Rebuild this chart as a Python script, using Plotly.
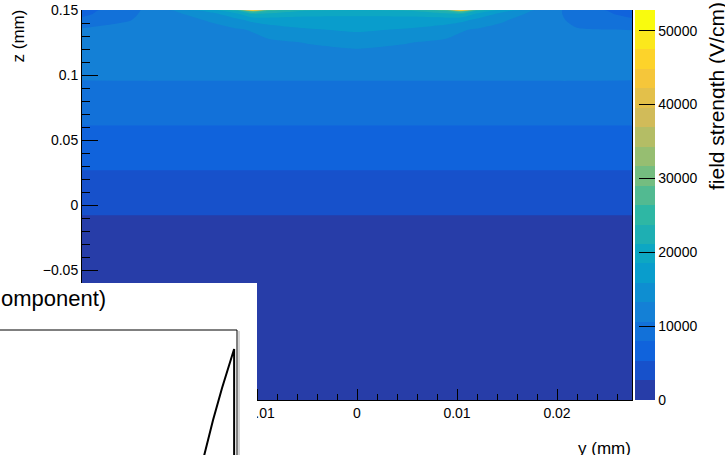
import plotly.graph_objects as go

# ---------------- data ----------------
X_MM = [-0.0275, -0.022, -0.018, -0.0145, -0.012, -0.0104, -0.0088, -0.005, 0.0,
        0.005, 0.0088, 0.0104, 0.012, 0.0145, 0.018, 0.022, 0.0275]
Z_MM = [-0.15, -0.043, 0.0, 0.044, 0.08, 0.11, 0.125, 0.135, 0.142, 0.147, 0.1495, 0.15]

ROW_M015 = [0] * 17
ROW_M0043 = [0] * 17
ROW_0000 = [3231] * 17
ROW_0044 = [6608] * 17
ROW_0080 = [9370] * 17
ROW_0110 = [11600, 11673, 11673, 11673, 11673, 11673, 11673, 11673, 11673, 11673, 11673, 11673, 11673, 11673, 11673, 11673, 11600]
ROW_0125 = [11900, 11800, 11900, 12100, 12300, 12500, 12700, 13300, 13900, 13300, 12700, 12500, 12300, 12100, 11850, 11500, 11700]
ROW_0135 = [10900, 11200, 12100, 12600, 13000, 13400, 14600, 15600, 16300, 15600, 14600, 13400, 13000, 12600, 11900, 10700, 10500]
ROW_0142 = [8600, 10800, 12400, 13400, 15000, 16500, 17000, 17700, 17900, 17700, 17000, 16500, 15000, 13400, 12000, 10000, 8400]
ROW_0147 = [7300, 10500, 12800, 15000, 18000, 21000, 20500, 19000, 18800, 19000, 20500, 21000, 18000, 15000, 12200, 9600, 7100]
ROW_01495 = [7000, 10300, 13400, 17000, 21000, 30000, 24000, 21000, 20000, 21000, 24000, 30000, 21000, 17000, 12500, 9400, 6700]
ROW_0150 = [6800, 10200, 14000, 20000, 26000, 52800, 28000, 22500, 21000, 22500, 28000, 52800, 26000, 20000, 12800, 9300, 6500]
FIELD = [ROW_M015, ROW_M0043, ROW_0000, ROW_0044, ROW_0080, ROW_0110, ROW_0125,
         ROW_0135, ROW_0142, ROW_0147, ROW_01495, ROW_0150]

LEVEL_START = 2640
LEVEL_END = 50160
LEVEL_STEP = 2640
FIELD_MAX = 52800
N_BANDS = 20
CB_TICKS = [0, 10000, 20000, 30000, 40000, 50000]

# partially visible inset (other canvas) curve
INSET_X = [0.778, 0.798, 0.829, 0.864, 0.911, 0.911]
INSET_Y = [-0.1, 0.017, 0.203, 0.390, 0.616, -0.1]

# ---------------- styling helpers ----------------
W, H = 725, 455


def px(x):
    return x / W


def py(y):
    return 1 - y / H


BIRD_STOPS = [0, .125, .25, .375, .5, .625, .75, .875, 1]
BIRD_R = [0.2082, 0.0592, 0.0780, 0.0232, 0.1802, 0.5301, 0.8186, 0.9956, 0.9764]
BIRD_G = [0.1664, 0.3599, 0.5041, 0.6419, 0.7178, 0.7492, 0.7328, 0.7862, 0.9832]
BIRD_B = [0.5293, 0.8684, 0.8385, 0.7914, 0.6425, 0.4662, 0.3499, 0.1968, 0.0539]


def bird(p):
    for i in range(len(BIRD_STOPS) - 1):
        if p <= BIRD_STOPS[i + 1]:
            t = (p - BIRD_STOPS[i]) / (BIRD_STOPS[i + 1] - BIRD_STOPS[i])
            r = BIRD_R[i] + t * (BIRD_R[i + 1] - BIRD_R[i])
            g = BIRD_G[i] + t * (BIRD_G[i + 1] - BIRD_G[i])
            b = BIRD_B[i] + t * (BIRD_B[i + 1] - BIRD_B[i])
            return "rgb(%d,%d,%d)" % (round(r * 255), round(g * 255), round(b * 255))
    return "rgb(249,251,14)"


band_colors = [bird(int((k + 0.99) * 255 / N_BANDS) / 254) for k in range(N_BANDS)]
contour_scale = [[k / (N_BANDS - 1), c] for k, c in enumerate(band_colors)]
bar_scale = []
for k, c in enumerate(band_colors):
    bar_scale.append([k / N_BANDS, c])
    bar_scale.append([(k + 1) / N_BANDS, c])

FONT = "Liberation Sans, Arial, Helvetica, sans-serif"

fig = go.Figure()
fig.add_trace(go.Contour(
    x=X_MM, y=Z_MM, z=FIELD,
    colorscale=contour_scale,
    autocontour=False,
    contours=dict(start=LEVEL_START, end=LEVEL_END, size=LEVEL_STEP,
                  coloring="fill", showlines=False),
    line=dict(width=0, smoothing=0.7),
    showscale=False, hoverinfo="skip",
    xaxis="x", yaxis="y",
))
# colour scale carrier
fig.add_trace(go.Scatter(
    x=[None], y=[None], mode="markers", hoverinfo="skip",
    marker=dict(color=[0], cmin=0, cmax=FIELD_MAX, colorscale=bar_scale, showscale=True,
                colorbar=dict(thickness=20, thicknessmode="pixels",
                              len=390 / H, lenmode="fraction",
                              x=px(635), xanchor="left", xpad=0,
                              y=py(10), yanchor="top", ypad=0,
                              outlinewidth=0, tickvals=CB_TICKS, tickformat="d",
                              ticks="inside", ticklen=16, tickcolor="black", tickwidth=1,
                              tickfont=dict(family=FONT, size=14, color="black"))),
    xaxis="x", yaxis="y",
))
# inset from the overlapping canvas
fig.add_trace(go.Scatter(
    x=INSET_X, y=INSET_Y, mode="lines",
    line=dict(color="black", width=2),
    hoverinfo="skip", xaxis="x2", yaxis="y2",
))

axis_common = dict(showgrid=False, zeroline=False, showline=True, linecolor="black",
                   linewidth=1, ticks="inside", tickcolor="black", tickwidth=1,
                   automargin=False,
                   tickfont=dict(family=FONT, size=14, color="black"))

fig.update_layout(
    template="none",
    width=W, height=H,
    margin=dict(l=0, r=0, t=0, b=0, pad=0),
    paper_bgcolor="white", plot_bgcolor="white",
    showlegend=False,
    font=dict(family=FONT, size=14, color="black"),
    xaxis=dict(domain=[px(82), px(632)], range=[-0.0275, 0.0275],
               tick0=0, dtick=0.01, ticklen=11, anchor="y",
               minor=dict(dtick=0.002, ticks="inside", ticklen=6, tickcolor="black"),
               **axis_common),
    yaxis=dict(domain=[1 - 400 / H, 1 - 10 / H], range=[-0.15, 0.15],
               tick0=0, dtick=0.05, ticklen=16, anchor="x", mirror=True,
               minor=dict(dtick=0.01, ticks="inside", ticklen=8, tickcolor="black"),
               **axis_common),
    xaxis2=dict(domain=[0, px(257)], range=[0, 1], visible=False, anchor="y2",
                automargin=False),
    yaxis2=dict(domain=[0, 172 / H], range=[0, 1], visible=False, anchor="x2",
                automargin=False),
    shapes=[
        dict(type="line", xref="paper", yref="paper", x0=0, x1=px(237),
             y0=py(330), y1=py(330), line=dict(color="black", width=1)),
        dict(type="line", xref="paper", yref="paper", x0=px(237), x1=px(237),
             y0=py(330), y1=0, line=dict(color="black", width=1)),
        dict(type="line", xref="paper", yref="paper", x0=px(239), x1=px(239),
             y0=py(331), y1=0, line=dict(color="#aaaaaa", width=1)),
    ],
    annotations=[
        dict(text="z (mm)", x=px(18), y=py(8), xref="paper", yref="paper",
             xanchor="center", yanchor="top", textangle=-90, showarrow=False,
             font=dict(family=FONT, size=17, color="black")),
        dict(text="y (mm)", x=px(633), y=py(448), xref="paper", yref="paper",
             xanchor="right", yanchor="middle", showarrow=False,
             font=dict(family=FONT, size=17, color="black")),
        dict(text="field strength (V/cm)", x=px(716), y=py(0), xref="paper", yref="paper",
             xanchor="center", yanchor="top", textangle=-90, showarrow=False,
             font=dict(family=FONT, size=21, color="black")),
        dict(text="omponent)", x=px(108), y=py(298), xref="paper", yref="paper",
             xanchor="right", yanchor="middle", showarrow=False,
             font=dict(family=FONT, size=22, color="black")),
    ],
)

fig.write_html("out.html",
               config={"displayModeBar": False},
               post_script="document.body.style.margin='0';"
                           "document.body.style.overflow='hidden';")
